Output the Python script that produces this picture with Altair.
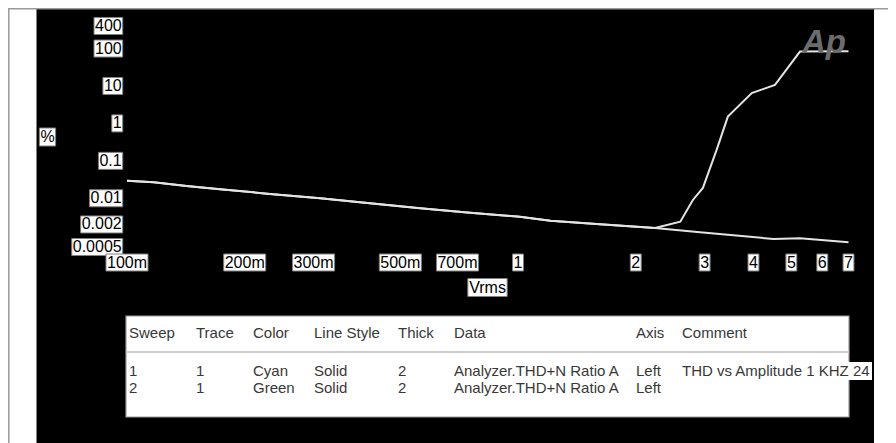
import altair as alt
import pandas as pd

# ---------------- data ----------------
# Sweep 2 (Green) – THD+N ratio (%) vs amplitude (Vrms)
sweep2_v = [0.100, 0.117, 0.142, 0.173, 0.232, 0.312, 0.418, 0.562, 0.754,
            1.01, 1.21, 1.62, 2.24, 2.92, 4.50, 5.26, 7.00]
sweep2_thd = [0.0296, 0.0269, 0.0214, 0.0174, 0.0131, 0.0100, 0.00737, 0.00541,
              0.00413, 0.00323, 0.00252, 0.00202, 0.00161, 0.00124, 0.00082,
              0.00085, 0.00067]

# Sweep 1 (Cyan) – overlaps sweep 2, then clips above ~2.3 Vrms
sweep1_v = [0.100, 0.117, 0.142, 0.173, 0.232, 0.312, 0.418, 0.562, 0.754,
            1.01, 1.21, 1.62, 2.24, 2.60, 2.80, 2.97, 3.22, 3.44, 3.96, 4.54,
            5.26, 7.00]
sweep1_thd = [0.0296, 0.0269, 0.0214, 0.0174, 0.0131, 0.0100, 0.00737, 0.00541,
              0.00413, 0.00323, 0.00252, 0.00202, 0.00161, 0.00237, 0.00903,
              0.0189, 0.196, 1.52, 6.44, 10.7, 83.0, 85.0]

y_tick_values = [400, 100, 10, 1, 0.1, 0.01, 0.002, 0.0005]
y_tick_labels = ["400", "100", "10", "1", "0.1", "0.01", "0.002", "0.0005"]
x_tick_values = [0.1, 0.2, 0.3, 0.5, 0.7, 1, 2, 3, 4, 5, 6, 7]
x_tick_labels = ["100m", "200m", "300m", "500m", "700m", "1", "2", "3", "4", "5", "6", "7"]

y_title = "%"
x_title = "Vrms"

table_header = ["Sweep", "Trace", "Color", "Line Style", "Thick", "Data", "Axis", "Comment"]
table_row1 = ["1", "1", "Cyan", "Solid", "2", "Analyzer.THD+N Ratio A", "Left",
              "THD vs Amplitude 1 KHZ 24"]
table_row2 = ["2", "1", "Green", "Solid", "2", "Analyzer.THD+N Ratio A", "Left", ""]

# ---------------- layout / style ----------------
FONT = "Liberation Sans"
LABEL_SIZE = 16
TABLE_SIZE = 15
col_x = [93, 160, 217, 278, 362, 418, 600, 646]
row_y = [325, 362.7, 380]

xscale = alt.Scale(type="log", domain=[0.1, 7], range=[91, 812.5])
yscale = alt.Scale(type="log", domain=[0.0005, 400], range=[239, 18])

CHAR_W = {"0": .556, "1": .556, "2": .556, "3": .556, "4": .556, "5": .556,
          "6": .556, "7": .556, "8": .556, "9": .556, ".": .278, "m": .833,
          "V": .667, "r": .333, "s": .5, "%": .889}


def text_w(s, size=LABEL_SIZE):
    return sum(CHAR_W.get(c, .556) for c in s) * size + 2


lines = pd.concat([
    pd.DataFrame({"v": sweep2_v, "thd": sweep2_thd, "sweep": "2"}),
    pd.DataFrame({"v": sweep1_v, "thd": sweep1_thd, "sweep": "1"}),
])

ylab = pd.DataFrame({"v": y_tick_values, "text": y_tick_labels})
ylab["w"] = ylab["text"].map(text_w)
ylab["cx"] = 86.7 - ylab["w"] / 2

xlab = pd.DataFrame({"v": x_tick_values, "text": x_tick_labels})
xlab["w"] = xlab["text"].map(text_w)

titles = pd.DataFrame({"text": [y_title, x_title], "cx": [11.5, 451.5], "cy": [129, 279.5]})
titles["w"] = titles["text"].map(text_w)

trows = []
for r, row in enumerate([table_header, table_row1, table_row2]):
    for c, t in enumerate(row):
        if t:
            trows.append({"text": t, "px": col_x[c], "py": row_y[r]})
table_df = pd.DataFrame(trows)

base_line = alt.Chart(lines).mark_line(color="#e4e4e4", strokeWidth=2).encode(
    x=alt.X("v:Q", scale=xscale, axis=None),
    y=alt.Y("thd:Q", scale=yscale, axis=None),
    detail="sweep:N",
)

frame_top = alt.Chart(pd.DataFrame({"a": [0]})).mark_rule(color="#9a9a9a", strokeWidth=1.5).encode(
    x=alt.value(-28), x2=alt.value(852), y=alt.value(0.75))
frame_left = alt.Chart(pd.DataFrame({"a": [0]})).mark_rule(color="#9a9a9a", strokeWidth=1.5).encode(
    x=alt.value(-27.2), y=alt.value(0), y2=alt.value(435))
white_right = alt.Chart(pd.DataFrame({"a": [0]})).mark_rect(color="white").encode(
    x=alt.value(838), x2=alt.value(852), y=alt.value(1.5), y2=alt.value(435))

logo = alt.Chart(pd.DataFrame({"t": ["Ap"]})).mark_text(
    font=FONT, fontSize=33, fontWeight="bold", fontStyle="italic", color="#6c6c6c",
    align="center", baseline="alphabetic").encode(
    x=alt.value(788), y=alt.value(45), text="t:N")

ybox = alt.Chart(ylab).mark_tick(orient="horizontal", thickness=17, color="white",
                                 stroke="#808080", strokeWidth=1, opacity=1).encode(
    x=alt.X("cx:Q", scale=None, axis=None),
    y=alt.Y("v:Q", scale=yscale, axis=None),
    size=alt.Size("w:Q", scale=None, legend=None))
ytext = alt.Chart(ylab).mark_text(font=FONT, fontSize=LABEL_SIZE, color="black",
                                  align="right", baseline="middle").encode(
    x=alt.value(85.7), y=alt.Y("v:Q", scale=yscale, axis=None), text="text:N")

xbox = alt.Chart(xlab).mark_tick(orient="horizontal", thickness=17, color="white",
                                 stroke="#808080", strokeWidth=1, opacity=1).encode(
    x=alt.X("v:Q", scale=xscale, axis=None), y=alt.value(254.5),
    size=alt.Size("w:Q", scale=None, legend=None))
xtext = alt.Chart(xlab).mark_text(font=FONT, fontSize=LABEL_SIZE, color="black",
                                  align="center", baseline="middle").encode(
    x=alt.X("v:Q", scale=xscale, axis=None), y=alt.value(255), text="text:N")

tbox = alt.Chart(titles).mark_tick(orient="horizontal", thickness=18, color="white",
                                   stroke="#808080", strokeWidth=1, opacity=1).encode(
    x=alt.X("cx:Q", scale=None, axis=None), y=alt.Y("cy:Q", scale=None, axis=None),
    size=alt.Size("w:Q", scale=None, legend=None))
ttext = alt.Chart(titles).mark_text(font=FONT, fontSize=LABEL_SIZE, color="black",
                                    align="center", baseline="middle").encode(
    x=alt.X("cx:Q", scale=None, axis=None), y=alt.Y("cy:Q", scale=None, axis=None),
    text="text:N")

table_rect = alt.Chart(pd.DataFrame({"a": [0]})).mark_rect(
    color="white", stroke="#9a9a9a", strokeWidth=1.2).encode(
    x=alt.value(90), x2=alt.value(813), y=alt.value(308), y2=alt.value(409))
table_overflow = alt.Chart(pd.DataFrame({"a": [0]})).mark_rect(color="white").encode(
    x=alt.value(812), x2=alt.value(836), y=alt.value(354), y2=alt.value(372))
table_sep = alt.Chart(pd.DataFrame({"a": [0]})).mark_rule(color="#cfcfcf", strokeWidth=2).encode(
    x=alt.value(90), x2=alt.value(813), y=alt.value(344))
table_text = alt.Chart(table_df).mark_text(font=FONT, fontSize=TABLE_SIZE, color="#383838",
                                           align="left", baseline="middle").encode(
    x=alt.X("px:Q", scale=None, axis=None), y=alt.Y("py:Q", scale=None, axis=None),
    text="text:N")

chart = alt.layer(
    white_right, frame_top, frame_left,
    base_line, logo,
    ybox, ytext, xbox, xtext, tbox, ttext,
    table_rect, table_overflow, table_sep, table_text,
).resolve_scale(x="independent", y="independent", size="independent").properties(
    width=838, height=435,
    autosize=alt.AutoSizeParams(type="none"),
    padding={"left": 28, "top": 0, "right": 14, "bottom": 0},
    background="white",
).configure_view(fill="black", stroke="transparent")

chart.save("out.html", embed_options={"renderer": "svg", "actions": False})
